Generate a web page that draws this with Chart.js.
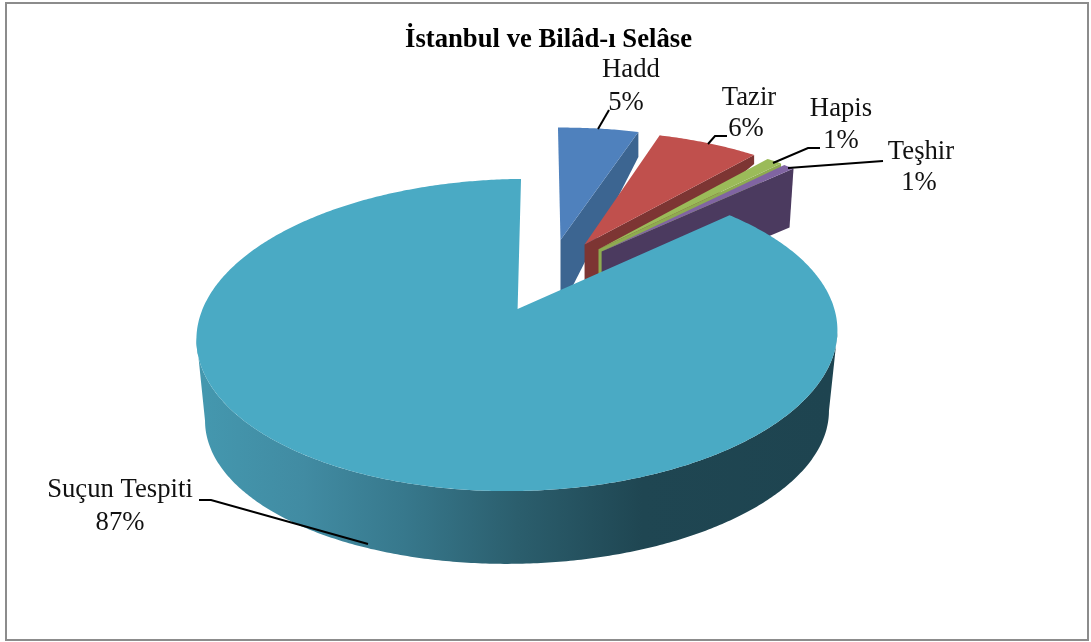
<!DOCTYPE html>
<html>
<head>
<meta charset="utf-8">
<title>İstanbul ve Bilâd-ı Selâse</title>
<script src="https://cdn.jsdelivr.net/npm/chart.js@4"></script>
<style>
  html, body { margin: 0; padding: 0; background: #fff; }
  canvas { display: block; }
</style>
</head>
<body>
<canvas id="chart" width="1091" height="642"></canvas>
<script>
// Data
const categories = ['Hadd', 'Tazir', 'Hapis', 'Teşhir', 'Suçun Tespiti'];
const shares = [5.1, 6.4, 1.0, 0.7, 86.8];
const percentLabels = ['5%', '6%', '1%', '1%', '87%'];

// Colours
const topColors = ['#4f81bd', '#c0504d', '#9bbb59', '#8064a2', '#4aaac4'];
const wallColors = ['#3c6591', '#7d3533', '#8eab50', '#4b3a5f', '#2b5e6d'];

// Fake 3D: tilted disc planes with a bit of perspective
const topPlane = { x: 517.6, y: 309, a: 316, b: 151.7, k: 0.1667, tilt: -0.008, shear: 4 };
const floorPlane = { x: 517, y: 391, a: 307.6, b: 144, k: 0.1667, tilt: -0.016, shear: 0 };
// how far each slice is pulled out, in disc units
const explodeOffsets = [[0.1406, 0.49], [0.2222, 0.454], [0.2686, 0.416], [0.2786, 0.40], [0, 0]];
// cut face: depth at the centre, depth at the rim, x shift at the rim
const cutFaces = [[70, 25, 0], [60, 9, 0], [50, 5, 0], [55, 59, -4], null];

// label placement
const labelSpots = [[631, 70, 626, 103], [749, 98, 746, 129], [841, 109, 841, 141], [921, 152, 919, 183], [120, 490, 120, 523]];
const leaderLines = [
  [[598, 129], [609, 110]],
  [[708, 144], [715, 136], [727, 136]],
  [[773, 163], [808, 148], [820, 148]],
  [[788, 168], [883, 161]],
  [[199, 500], [211, 500], [368, 544]]
];

function project(plane, u, v) {
  const w = 1 + plane.k * v;
  const x = plane.x + (plane.a * u + plane.shear * v) / w;
  const y = plane.y - plane.b * v / w + plane.tilt * (x - plane.x);
  return [x, y];
}

function rimPoint(plane, offset, angle) {
  return project(plane, offset[0] + Math.sin(angle), offset[1] + Math.cos(angle));
}

function fillPolygon(ctx, points, fill) {
  ctx.beginPath();
  points.forEach((p, i) => i ? ctx.lineTo(p[0], p[1]) : ctx.moveTo(p[0], p[1]));
  ctx.closePath();
  ctx.fillStyle = fill;
  ctx.fill();
}

function rimPoints(plane, offset, from, to) {
  const pts = [];
  const steps = Math.max(2, Math.ceil(Math.abs(to - from) / 0.01));
  for (let i = 0; i <= steps; i++) {
    pts.push(rimPoint(plane, offset, from + (to - from) * i / steps));
  }
  return pts;
}

function drawCutFace(ctx, i, endAngle) {
  const offset = explodeOffsets[i];
  const face = cutFaces[i];
  const apex = project(topPlane, offset[0], offset[1]);
  const corner = rimPoint(topPlane, offset, endAngle);
  fillPolygon(ctx, [
    apex,
    corner,
    [corner[0] + face[2], corner[1] + face[1]],
    [apex[0], apex[1] + face[0]]
  ], wallColors[i]);
}

function drawFrontWall(ctx, i) {
  // front of the disc, between the two side extremes of the top ellipse
  const k = topPlane.k;
  const right = Math.PI - Math.asin(Math.sqrt(1 - k * k));
  const left = 2 * Math.PI - right;
  const upper = rimPoints(topPlane, explodeOffsets[i], right, left);
  const lower = rimPoints(floorPlane, explodeOffsets[i], left, right);
  const grad = ctx.createLinearGradient(205, 0, 830, 0);
  grad.addColorStop(0, '#4497ae');
  grad.addColorStop(0.16, '#418ba2');
  grad.addColorStop(0.32, '#37788c');
  grad.addColorStop(0.5, wallColors[i]);
  grad.addColorStop(0.7, '#1f4652');
  grad.addColorStop(1, '#1e4450');
  fillPolygon(ctx, upper.concat(lower), grad);
}

// angles come from the pie controller, the plugin only projects them
const pie3d = {
  id: 'pie3d',
  beforeDatasetDraw(chart, args) {
    const ctx = chart.ctx;
    const arcs = chart.getDatasetMeta(args.index).data;
    ctx.save();
    // frame
    ctx.strokeStyle = '#8c8c8c';
    ctx.lineWidth = 2;
    ctx.strokeRect(6, 3, 1082, 637);
    arcs.forEach((arc, i) => {
      const from = arc.startAngle + Math.PI / 2;
      const to = arc.endAngle + Math.PI / 2;
      if (cutFaces[i]) drawCutFace(ctx, i, to);
      else drawFrontWall(ctx, i);
      const apex = project(topPlane, explodeOffsets[i][0], explodeOffsets[i][1]);
      fillPolygon(ctx, [apex].concat(rimPoints(topPlane, explodeOffsets[i], from, to)), topColors[i]);
    });
    ctx.restore();
    return false;
  },
  afterDraw(chart) {
    const ctx = chart.ctx;
    ctx.save();
    ctx.strokeStyle = '#000';
    ctx.lineWidth = 2;
    leaderLines.forEach(line => {
      ctx.beginPath();
      line.forEach((p, i) => i ? ctx.lineTo(p[0], p[1]) : ctx.moveTo(p[0], p[1]));
      ctx.stroke();
    });
    ctx.fillStyle = '#111';
    ctx.font = '26.7px "Liberation Serif"';
    ctx.textAlign = 'center';
    ctx.textBaseline = 'middle';
    categories.forEach((name, i) => {
      const s = labelSpots[i];
      ctx.fillText(name, s[0], s[1]);
      ctx.fillText(percentLabels[i], s[2], s[3]);
    });
    ctx.restore();
  }
};

new Chart(document.getElementById('chart'), {
  type: 'pie',
  data: {
    labels: categories,
    datasets: [{ data: shares, backgroundColor: topColors, borderWidth: 0 }]
  },
  options: {
    responsive: false,
    animation: false,
    layout: { padding: { left: 6, top: 24 } },
    plugins: {
      legend: { display: false },
      tooltip: { enabled: false },
      title: {
        display: true,
        text: 'İstanbul ve Bilâd-ı Selâse',
        color: '#000',
        font: { family: '"Liberation Serif"', size: 26.7, weight: 'bold' },
        padding: 0
      }
    }
  },
  plugins: [pie3d]
});
</script>
</body>
</html>
